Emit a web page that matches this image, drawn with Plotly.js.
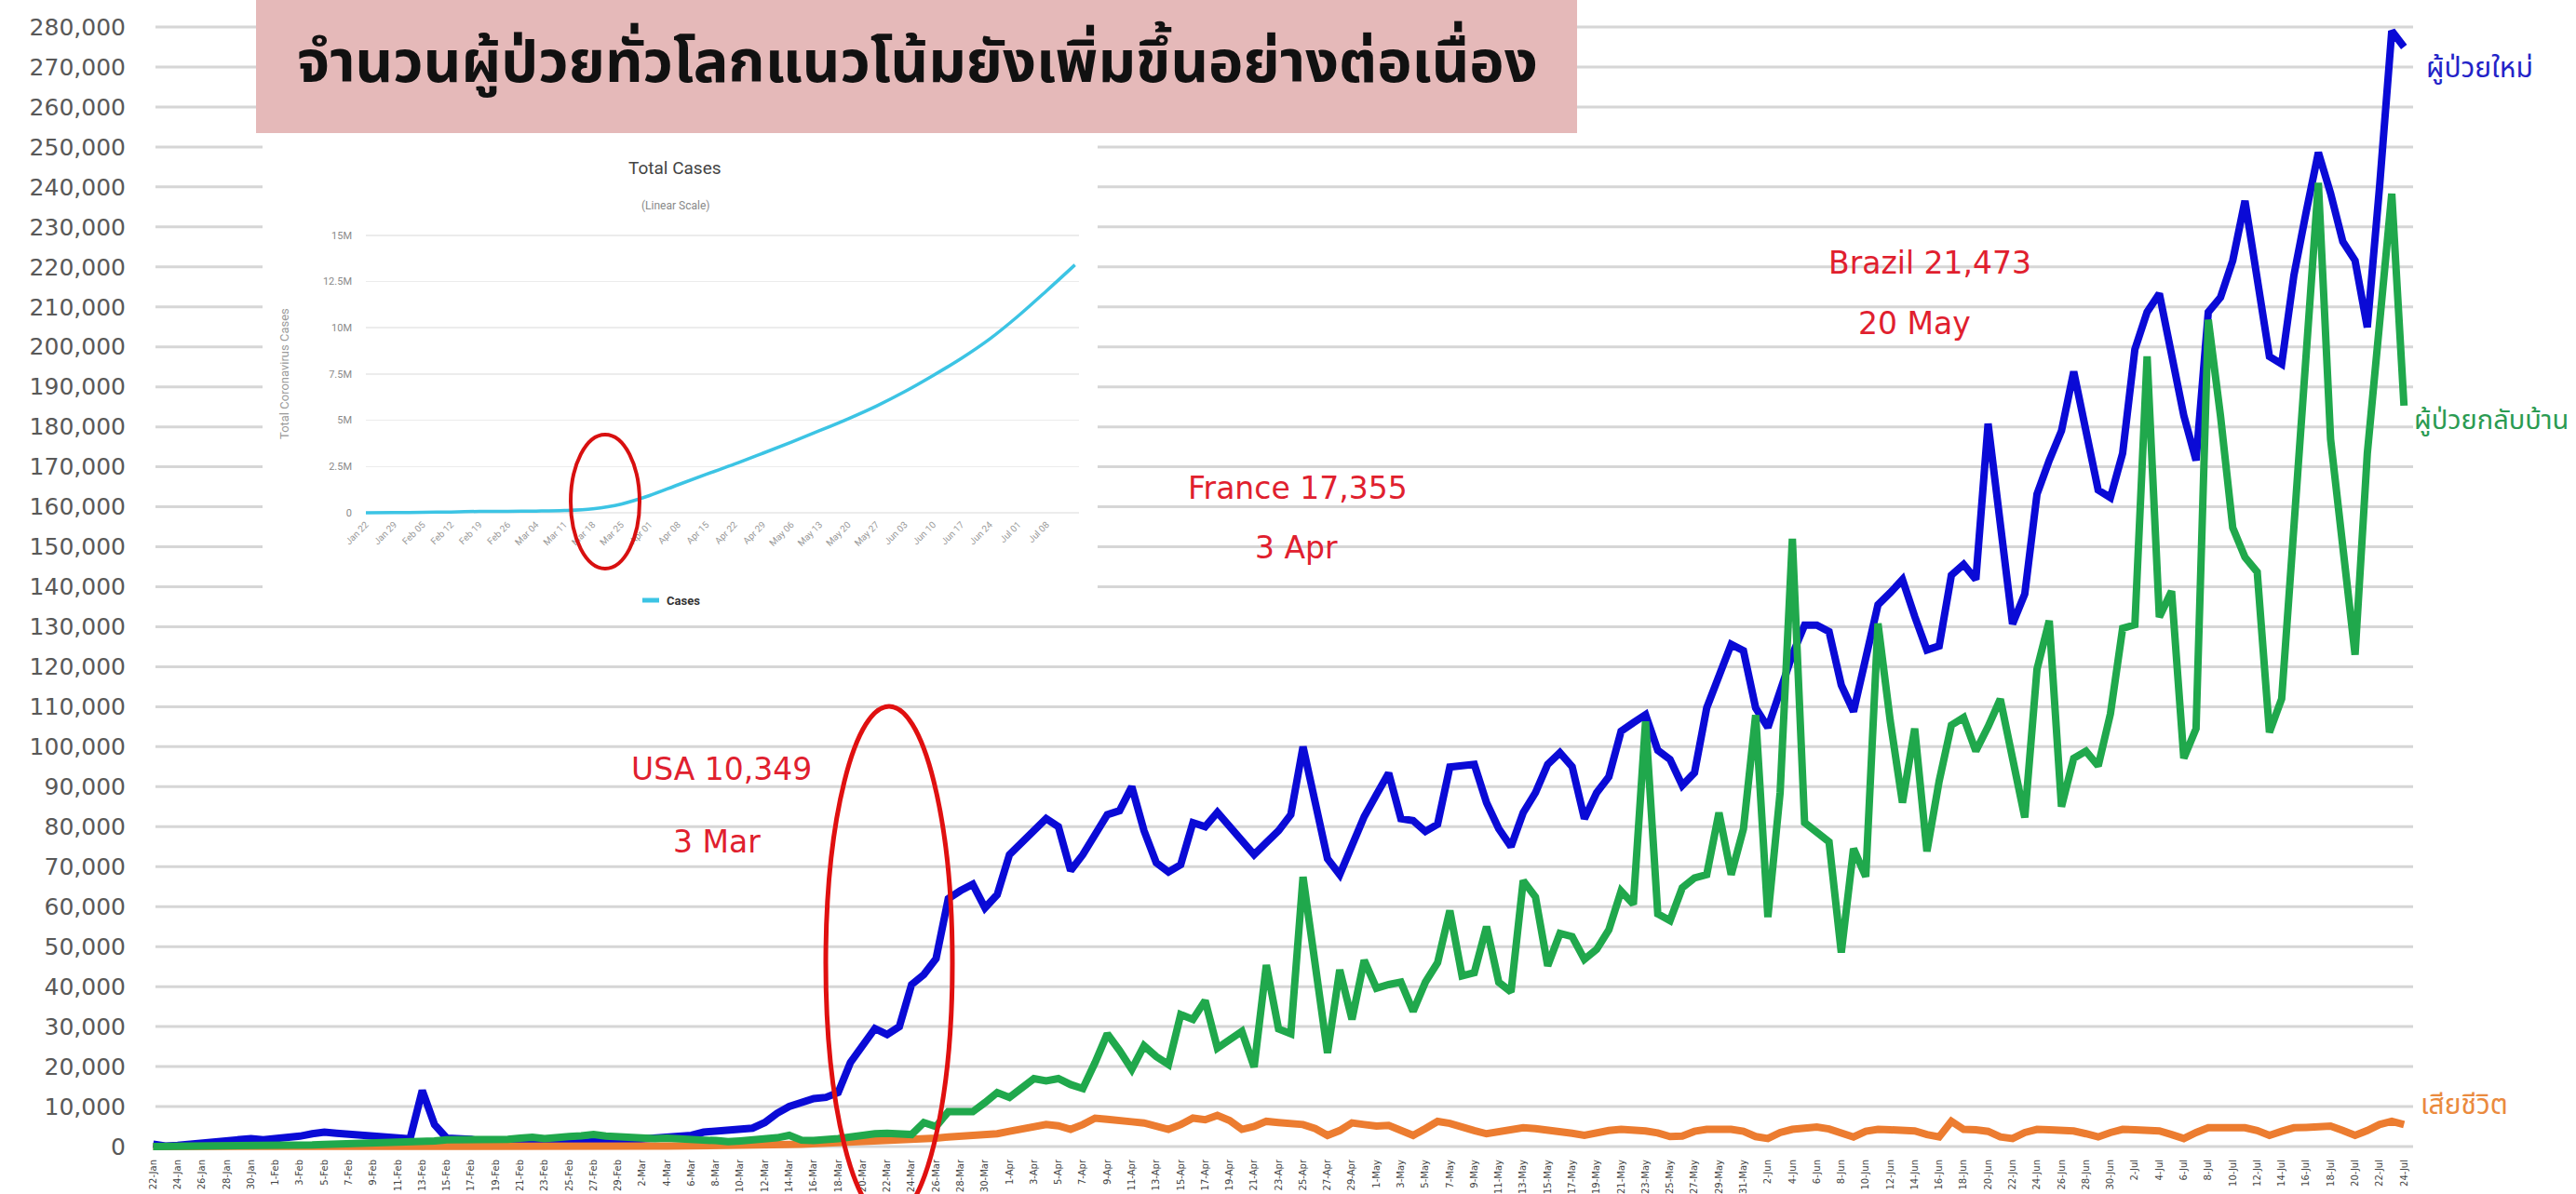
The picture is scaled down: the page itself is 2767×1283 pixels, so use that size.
<!DOCTYPE html>
<html><head><meta charset="utf-8">
<script src="https://cdn.plot.ly/plotly-3.0.1.min.js"></script>
<style>html,body{margin:0;padding:0;background:#fff;}#chart{width:2767px;height:1283px;}</style>
</head><body><div id="chart"></div>
<script>
// ---------- DATA ----------
const dates = [
"22-Jan","23-Jan","24-Jan","25-Jan","26-Jan","27-Jan","28-Jan","29-Jan","30-Jan","31-Jan",
"1-Feb","2-Feb","3-Feb","4-Feb","5-Feb","6-Feb","7-Feb","8-Feb","9-Feb","10-Feb",
"11-Feb","12-Feb","13-Feb","14-Feb","15-Feb","16-Feb","17-Feb","18-Feb","19-Feb","20-Feb",
"21-Feb","22-Feb","23-Feb","24-Feb","25-Feb","26-Feb","27-Feb","28-Feb","29-Feb",
"1-Mar","2-Mar","3-Mar","4-Mar","5-Mar","6-Mar","7-Mar","8-Mar","9-Mar","10-Mar",
"11-Mar","12-Mar","13-Mar","14-Mar","15-Mar","16-Mar","17-Mar","18-Mar","19-Mar","20-Mar",
"21-Mar","22-Mar","23-Mar","24-Mar","25-Mar","26-Mar","27-Mar","28-Mar","29-Mar","30-Mar","31-Mar",
"1-Apr","2-Apr","3-Apr","4-Apr","5-Apr","6-Apr","7-Apr","8-Apr","9-Apr","10-Apr",
"11-Apr","12-Apr","13-Apr","14-Apr","15-Apr","16-Apr","17-Apr","18-Apr","19-Apr","20-Apr",
"21-Apr","22-Apr","23-Apr","24-Apr","25-Apr","26-Apr","27-Apr","28-Apr","29-Apr","30-Apr",
"1-May","2-May","3-May","4-May","5-May","6-May","7-May","8-May","9-May","10-May",
"11-May","12-May","13-May","14-May","15-May","16-May","17-May","18-May","19-May","20-May",
"21-May","22-May","23-May","24-May","25-May","26-May","27-May","28-May","29-May","30-May","31-May",
"1-Jun","2-Jun","3-Jun","4-Jun","5-Jun","6-Jun","7-Jun","8-Jun","9-Jun","10-Jun",
"11-Jun","12-Jun","13-Jun","14-Jun","15-Jun","16-Jun","17-Jun","18-Jun","19-Jun","20-Jun",
"21-Jun","22-Jun","23-Jun","24-Jun","25-Jun","26-Jun","27-Jun","28-Jun","29-Jun","30-Jun",
"1-Jul","2-Jul","3-Jul","4-Jul","5-Jul","6-Jul","7-Jul","8-Jul","9-Jul","10-Jul",
"11-Jul","12-Jul","13-Jul","14-Jul","15-Jul","16-Jul","17-Jul","18-Jul","19-Jul","20-Jul",
"21-Jul","22-Jul","23-Jul","24-Jul"];

const newCases = [
600,100,300,600,700,800,1300,1700,2000,1700,
2000,2100,2600,3200,3600,3300,3000,2800,2500,2200,
2000,1900,14000,5500,2100,2000,1800,1100,900,500,
900,600,500,600,900,1200,1200,1200,1400,1500,
1900,2100,2200,2200,2800,3600,3800,3900,4000,4600,
6000,8300,10000,11000,12000,12300,13500,21000,25000,29500,
28000,30000,40500,43000,47000,62000,64000,65600,59700,63000,
73000,76000,79000,82000,80000,69000,73000,78000,83000,84000,
90000,79000,71000,68700,70500,81000,80000,83600,80000,76000,
73000,76000,79000,83000,100000,86000,72000,68000,75000,82500,
88000,93400,82000,81500,78800,80600,94900,95300,95600,86000,
79500,75000,83500,88500,95600,98500,95000,82000,88500,92500,
103900,106000,108000,99100,96800,90300,93500,109700,118000,125600,
124000,109700,104800,113800,123000,130400,130400,128800,115400,108800,
122000,135500,138500,141800,132600,124200,125200,142900,145600,141800,
180800,156700,130700,138200,163200,171600,179000,193800,179000,164200,
162300,173400,199400,208700,213300,197600,182800,171600,208700,212400,
221600,236500,217900,197600,195700,217900,233700,248600,238400,226300,
221600,204900,240000,279000,275000];

const recovered = [
0,0,0,10,10,20,30,50,80,100,
150,200,300,400,500,600,700,800,900,1000,
1100,900,1200,1400,1700,1700,1600,1800,2000,1800,
2100,2300,2000,2400,2500,2700,3000,2600,2400,2300,
2200,2000,2100,1800,1900,1600,1500,1200,1400,1600,
1800,2200,2800,1600,1500,1600,2000,2400,2900,3200,
3300,3100,3000,6000,5000,8700,8700,8700,11000,13500,
12300,14500,17000,16400,17000,15500,14500,21000,28200,24000,
19300,25200,22500,20500,33000,31800,36500,24600,26500,28800,
19900,45400,29400,28200,67400,45000,23400,44200,31800,46600,
39600,40500,41100,33800,41100,46000,59000,42700,43500,55000,
41100,38700,66500,62400,45200,53300,52500,46800,49300,54200,
63900,60600,106300,58200,56500,64700,67200,68000,83500,68000,
79400,107900,57400,88500,152000,81000,78600,76200,48500,74500,
67500,130800,106500,86000,104500,73800,91400,105400,107300,98900,
105000,111900,97100,82300,119400,131500,85000,97100,98900,95200,
108200,129600,130500,197600,132400,138900,97100,104500,206800,182700,
154800,147400,143700,103600,112000,155000,198000,241000,176900,150000,
123000,173300,205000,238300,185300];

const deaths = [
20,10,10,20,20,30,30,30,40,40,
50,60,60,70,70,80,90,100,100,100,
100,100,250,150,140,140,100,100,150,100,
100,100,50,50,50,50,50,60,70,60,
70,100,100,100,200,200,300,350,350,400,
400,400,500,600,700,800,900,1000,1100,1300,
1500,1700,1900,2000,2100,2400,2600,2900,2800,3200,
3800,4500,5000,5500,5200,4300,5500,7100,6800,6700,
6200,5900,5000,4300,5500,7100,6700,7800,6500,4300,
5000,6300,6000,5800,5500,4500,2800,4000,5900,5500,
5100,5300,4000,2800,4500,6300,5800,4700,4000,3200,
3600,4200,4700,4500,4200,3900,3300,2800,3500,4000,
4300,4200,3900,3400,2500,2600,3800,4300,4300,4300,
3800,2500,2000,3500,4300,4600,4900,4400,3400,2400,
3800,4300,4200,4000,3900,3000,2400,6300,4300,4200,
3800,2400,2000,3500,4300,4200,4100,3900,3200,2400,
3500,4300,4200,4000,3900,3000,2000,3500,4700,4700,
4700,4700,4000,2800,3800,4700,4800,5000,5100,4000,
2800,4000,5500,6300,5500];

const seriesNames = ["ผู้ป่วยใหม่", "ผู้ป่วยกลับบ้าน", "เสียชีวิต"];
const titleText = "จำนวนผู้ป่วยทั่วโลกแนวโน้มยังเพิ่มขึ้นอย่างต่อเนื่อง";
const noteTexts = ["USA 10,349", "3 Mar", "France 17,355", "3 Apr", "Brazil 21,473", "20 May"];
const yTickStep = 10000;
const yTickMax = 280000;

// inset (Total Cases, linear scale)
const insetDays = [0,7,14,21,28,35,42,49,56,63,70,77,84,91,98,105,112,119,126,133,140,147,154,161,168,175];
const insetTotals = [600,7800,28000,45000,76000,82000,95000,126000,220000,470000,930000,1510000,2080000,2630000,3220000,3820000,4440000,5080000,5770000,6550000,7420000,8350000,9400000,10640000,12000000,13400000];
const insetTickDays = [0,7,14,21,28,35,42,49,56,63,70,77,84,91,98,105,112,119,126,133,140,147,154,161,168];
const insetTickLabels = ["Jan 22","Jan 29","Feb 05","Feb 12","Feb 19","Feb 26","Mar 04","Mar 11","Mar 18","Mar 25","Apr 01","Apr 08","Apr 15","Apr 22","Apr 29","May 06","May 13","May 20","May 27","Jun 03","Jun 10","Jun 17","Jun 24","Jul 01","Jul 08"];
const insetYVals = [0,2500000,5000000,7500000,10000000,12500000,15000000];
const insetYText = ["0","2.5M","5M","7.5M","10M","12.5M","15M"];
const insetTexts = {title:"Total Cases", sub:"(Linear Scale)", ytitle:"Total Coronavirus Cases", legend:"Cases"};

// ---------- LAYOUT GEOMETRY (pixels) ----------
const W = 2767, H = 1283, ML = 162, MR = 177, MT = 25, MB = 40;
const PW = W - ML - MR, PH = H - MT - MB;
const Y_MIN = -2560, Y_MAX = 280931;
const px = p => (p - ML) / PW;          // pixel x -> paper
const py = p => (H - MB - p) / PH;      // pixel y -> paper
const pyVal = p => Y_MIN + (H - MB - p) / PH * (Y_MAX - Y_MIN); // pixel y -> main y value

const thaiFont = "'Noto Sans Thai', 'Noto Sans', 'DejaVu Sans', sans-serif";
const redCol = "#e0202e";

const traces = [
  {x: dates, y: newCases, type: "scatter", mode: "lines", name: seriesNames[0],
   line: {color: "#0a0ad6", width: 8}, xaxis: "x", yaxis: "y"},
  {x: dates, y: deaths, type: "scatter", mode: "lines", name: seriesNames[2],
   line: {color: "#ec7c30", width: 8}, xaxis: "x", yaxis: "y"},
  {x: dates, y: recovered, type: "scatter", mode: "lines", name: seriesNames[1],
   line: {color: "#20a84c", width: 8}, xaxis: "x", yaxis: "y"},
  {x: insetDays, y: insetTotals, type: "scatter", mode: "lines", name: insetTexts.legend,
   line: {color: "#3cc4e4", width: 3.5, shape: "spline"}, xaxis: "x2", yaxis: "y2"}
];

const evenDates = dates.filter((d, i) => i % 2 === 0);

const notePos = [[775, 826], [770, 904], [1394, 524], [1392, 588], [2073, 282], [2056, 348]];
const annotations = [];
noteTexts.forEach((t, i) => annotations.push({
  text: t, xref: "paper", yref: "paper", x: px(notePos[i][0]), y: py(notePos[i][1]),
  xanchor: "center", yanchor: "middle", showarrow: false,
  font: {family: "'DejaVu Sans', sans-serif", size: 33, color: redCol}
}));
annotations.push({text: "<b>" + titleText + "</b>", xref: "paper", yref: "paper", x: px(985), y: py(68),
  xanchor: "center", yanchor: "middle", showarrow: false,
  font: {family: thaiFont, size: 63, color: "#111111"}});
annotations.push({text: seriesNames[0], xref: "paper", yref: "paper", x: px(2604), y: py(74),
  xanchor: "left", yanchor: "middle", showarrow: false,
  font: {family: thaiFont, size: 30, color: "#2323c8"}});
annotations.push({text: seriesNames[1], xref: "paper", yref: "paper", x: px(2591), y: py(452),
  xanchor: "left", yanchor: "middle", showarrow: false,
  font: {family: thaiFont, size: 29, color: "#2b9b52"}});
annotations.push({text: seriesNames[2], xref: "paper", yref: "paper", x: px(2598), y: py(1188),
  xanchor: "left", yanchor: "middle", showarrow: false,
  font: {family: thaiFont, size: 30, color: "#ea8a3e"}});
annotations.push({text: insetTexts.title, xref: "paper", yref: "paper", x: px(725), y: py(181),
  xanchor: "center", yanchor: "middle", showarrow: false,
  font: {family: "Roboto, sans-serif", size: 19, color: "#444"}});
annotations.push({text: insetTexts.sub, xref: "paper", yref: "paper", x: px(725), y: py(221),
  xanchor: "center", yanchor: "middle", showarrow: false,
  font: {family: "Roboto, sans-serif", size: 12, color: "#888"}});
annotations.push({text: insetTexts.ytitle, xref: "paper", yref: "paper", x: px(305), y: py(402),
  xanchor: "center", yanchor: "middle", showarrow: false, textangle: -90,
  font: {family: "Roboto, sans-serif", size: 13, color: "#999"}});
annotations.push({text: "<b>" + insetTexts.legend + "</b>", xref: "paper", yref: "paper", x: px(714), y: py(645),
  xanchor: "left", yanchor: "middle", showarrow: false,
  font: {family: "Roboto, sans-serif", size: 13, color: "#333"}});

const shapes = [];
// main horizontal gridlines (one per y tick), drawn as lower-layer shapes
for (let v = 0; v <= yTickMax; v += yTickStep) {
  shapes.push({type: "line", xref: "paper", yref: "y", x0: px(167), x1: px(2592), y0: v, y1: v,
    line: {color: "#d6d6d6", width: 3}, layer: "below"});
}
// white inset panel that hides the gridlines behind the inset chart
shapes.push({type: "rect", xref: "paper", yref: "y", x0: px(282), x1: px(1179), y0: pyVal(662), y1: pyVal(142),
  fillcolor: "#ffffff", line: {width: 0}, layer: "below"});
// pink title box
shapes.push({type: "rect", xref: "paper", yref: "paper", x0: px(275), x1: px(1694), y0: py(0), y1: py(143),
  fillcolor: "#e5b9b9", line: {width: 0}, layer: "above"});
// main red ellipse
shapes.push({type: "circle", xref: "paper", yref: "paper", x0: px(887), x1: px(1023), y0: py(759), y1: py(1311),
  line: {color: "#e01010", width: 5}, layer: "above"});
// inset red ellipse
shapes.push({type: "circle", xref: "paper", yref: "paper", x0: px(613), x1: px(687), y0: py(467), y1: py(611),
  line: {color: "#d81010", width: 4}, layer: "above"});
// inset legend swatch
shapes.push({type: "line", xref: "paper", yref: "paper", x0: px(690), x1: px(708), y0: py(645), y1: py(645),
  line: {color: "#3cc4e4", width: 5}, layer: "above"});

const layout = {
  width: W, height: H,
  margin: {l: ML, r: MR, t: MT, b: MB, pad: 0},
  paper_bgcolor: "#ffffff", plot_bgcolor: "#ffffff",
  showlegend: false,
  xaxis: {type: "category", range: [-0.19, 184.59], tickmode: "array", tickvals: evenDates, ticktext: evenDates,
    tickangle: -90, tickfont: {family: "'DejaVu Sans', sans-serif", size: 10, color: "#444"},
    showgrid: false, zeroline: false, showline: false, ticks: "", automargin: false, fixedrange: true},
  yaxis: {range: [Y_MIN, Y_MAX], tick0: 0, dtick: yTickStep, tickformat: ",d",
    showgrid: false, zeroline: false, showline: false, ticks: "",
    tickfont: {family: "'DejaVu Sans', sans-serif", size: 25, color: "#595959"},
    ticklabelstandoff: 26, automargin: false, fixedrange: true},
  xaxis2: {domain: [px(393), px(1159)], anchor: "y2", range: [0, 176], tickmode: "array",
    tickvals: insetTickDays, ticktext: insetTickLabels, tickangle: -45,
    tickfont: {family: "Roboto, sans-serif", size: 10, color: "#9a9a9a"},
    showgrid: false, zeroline: false, showline: false, ticks: "", automargin: false},
  yaxis2: {domain: [py(555), py(248.8)], anchor: "x2", range: [-200000, 15200000], tickmode: "array",
    tickvals: insetYVals, ticktext: insetYText,
    tickfont: {family: "Roboto, sans-serif", size: 11, color: "#8a8a8a"},
    showgrid: true, gridcolor: "#ececec", gridwidth: 1.5, zeroline: false, showline: false, ticks: "",
    ticklabelstandoff: 14, automargin: false},
  annotations: annotations,
  shapes: shapes
};

Plotly.newPlot("chart", traces, layout, {staticPlot: true});
</script>
</body></html>
